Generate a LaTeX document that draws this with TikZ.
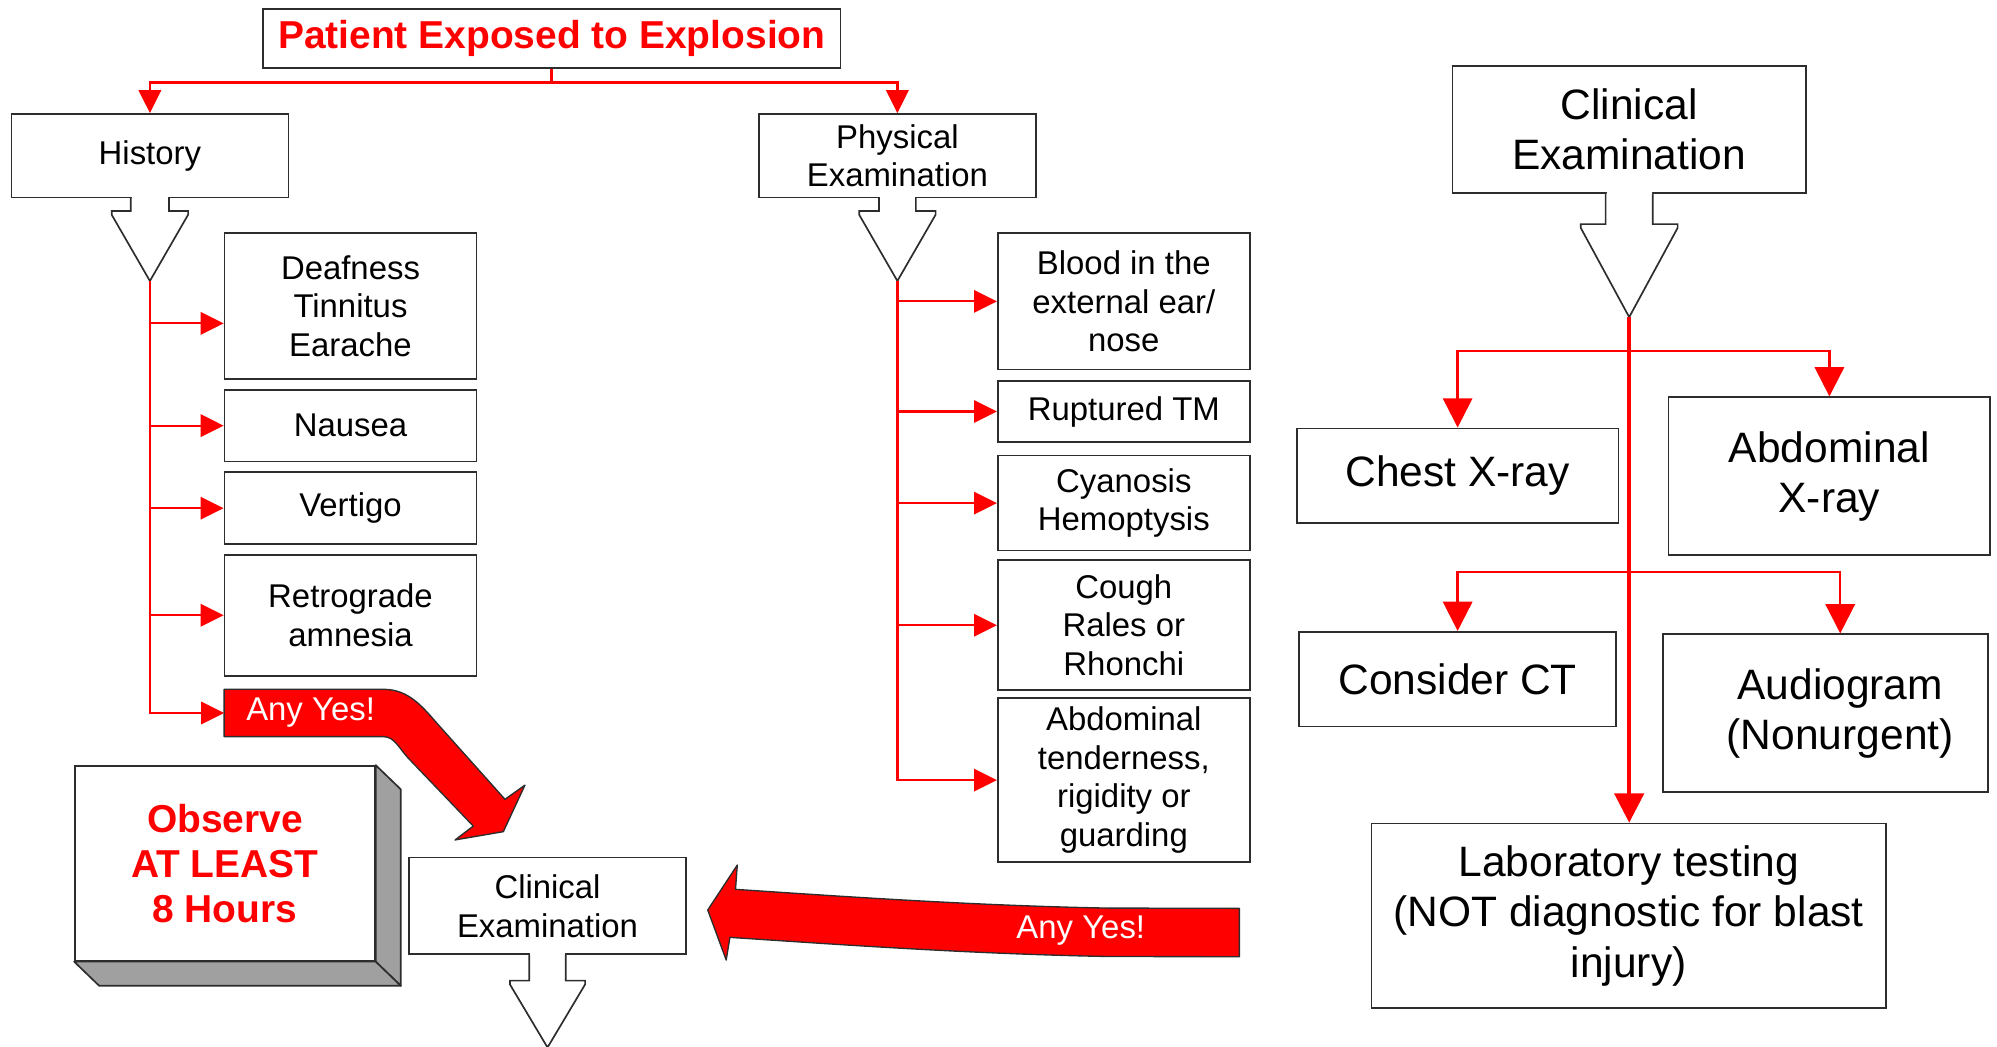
\documentclass[tikz,border=0pt]{standalone}
\usepackage{fontspec}
\setmainfont{Liberation Sans}
\usetikzlibrary{arrows.meta, positioning, calc}
\definecolor{edge}{RGB}{45,45,45}
\definecolor{sidegray}{RGB}{160,160,160}

\begin{document}
\begin{tikzpicture}[x=0.02cm, y=-0.02cm,
    item/.style={draw=edge, line width=0.75pt, fill=white, minimum width=3.96cm, align=center, inner sep=1pt, font=\fontsize{14.7}{17.3}\selectfont},
    hbox/.style={item, minimum width=4.35cm},
    bigbox/.style={draw=edge, line width=0.75pt, fill=white, align=center, inner sep=1pt, font=\fontsize{19}{22.5}\selectfont},
    warn/.style={font=\bfseries\fontsize{17.4}{20.2}\selectfont, text=red, align=center},
    arr/.style={red, line width=1pt, -{Triangle[length=0.36cm, width=0.35cm]}},
    bigarr/.style={red, line width=1.1pt, -{Triangle[length=0.46cm, width=0.46cm]}},
    yesarrow/.style={fill=red, draw=edge, line width=0.6pt, line join=round},
    yestxt/.style={text=white, font=\fontsize{14.7}{17.3}\selectfont},
    pics/tail/.style args={#1/#2/#3/#4}{code={
        \fill[white] (-#1+0.7,-1.5) rectangle (#1-0.7,1.5);
        \filldraw[fill=white, draw=edge, line width=0.75pt] (-#1,0) -- (-#1,#3) -- (-#2,#3) -- (-#2,#3+3) -- (0,#4) -- (#2,#3+3) -- (#2,#3) -- (#1,#3) -- (#1,0);
        \coordinate (-tip) at (0,#4);
    }},
]
\useasboundingbox (0,0) rectangle (1568,822);

% Patient, history and physical examination
\node[hbox, warn, minimum width=9.07cm, minimum height=0.93cm] (title) at (433.2,30.4) {Patient Exposed to Explosion};
\node[hbox, minimum height=1.31cm] (hist) at (117.7,122.2) {History};
\node[hbox, minimum height=1.31cm] (phys) at (704.6,122.2) {Physical\\Examination};

\draw[arr, line width=1.1pt] (title.south) -- ++(0,10.5) -| (hist.north);
\draw[arr, line width=1.1pt] (title.south) -- ++(0,10.5) -| (phys.north);

\pic (h) at (hist.south) {tail=15/30/10/65};
\pic (p) at (phys.south) {tail=14.5/30/10/65};

% History items
\node[item, minimum height=2.29cm] (dtt) at (275.2,240.4) {Deafness\\Tinnitus\\Earache};
\node[item, minimum height=1.13cm, below=0.14cm of dtt] (nau) {Nausea};
\node[item, minimum height=1.13cm, below=0.14cm of nau] (ver) {Vertigo};
\node[item, minimum height=1.9cm, below=0.14cm of ver] (retro) {Retrograde\\amnesia};

\path[yesarrow] (176,541.2) -- (301,541.2) .. controls (322,541.2) and (333,556.6) .. (345.5,570.6) -- (396.5,627.6) -- (412.2,616.4) -- (395.2,653) -- (357.3,659.5) -- (371.6,648.6) -- (321.9,596.7) .. controls (313,587.5) and (310,578.4) .. (301,578.4) -- (176,578.4) -- cycle;
\node[yestxt, anchor=west, inner xsep=0.34cm, minimum height=0.744cm] (anyl) at (176,559.8) {Any Yes!};

\coordinate (dttin) at ([yshift=-0.27cm]dtt.west);
\draw[arr] (h-tip |- dttin) -- (dttin);
\foreach \n in {nau, ver, retro}
  \draw[arr] (h-tip |- \n.west) -- (\n.west);
\draw[arr] (h-tip) |- (anyl.west);

% Physical examination items
\node[item, minimum height=2.14cm] (blood) at (882.4,236.6) {Blood in the\\external ear/\\nose};
\node[item, minimum height=0.96cm] (rupt) at (882.4,323.1) {Ruptured TM};
\node[item, minimum height=1.49cm] (cyan) at (882.4,395) {Cyanosis\\Hemoptysis};
\node[item, minimum height=2.04cm] (cough) at (882.4,490.9) {Cough\\Rales or\\Rhonchi};
\node[item, minimum height=2.57cm] (abdt) at (882.4,612.5) {Abdominal\\tenderness,\\rigidity or\\guarding};

\foreach \n in {blood, rupt, cyan, cough}
  \draw[arr] (p-tip |- \n.west) -- (\n.west);
\draw[arr] (p-tip) |- (abdt.west);

% Observe and clinical examination
\node[draw=edge, line width=0.75pt, fill=white, warn, minimum width=4.71cm, minimum height=3.06cm] (obs) at (176.6,677.9) {Observe\\AT LEAST\\8 Hours};
\filldraw[fill=sidegray, draw=edge, line width=0.75pt, line join=round] (obs.north east) -- ++(19.7,19) -- ([shift={(19.7,19)}]obs.south east) -- (obs.south east) -- cycle;
\filldraw[fill=sidegray, draw=edge, line width=0.75pt, line join=round] (obs.south west) -- ++(19.7,19) -- ([shift={(19.7,19)}]obs.south east) -- (obs.south east) -- cycle;

\node[hbox, minimum height=1.52cm] (clin) at (429.9,711.3) {Clinical\\Examination};
\pic (c) at (clin.south) {tail=14.3/29.5/20/72.5};

\path[yesarrow] (973.1,713.2) -- (870,713) .. controls (760,711) and (650,703) .. (577.5,698.3) -- (578.9,679.2) -- (555.7,714.5) -- (570.2,753.8) -- (573.1,736) .. controls (650,741) and (760,749) .. (870,751) -- (973.1,751.2) -- cycle;
\node[yestxt] (anyr) at (848.6,730.5) {Any Yes!};

% Right: clinical examination
\node[bigbox, minimum width=5.55cm, minimum height=1.99cm] (cr) at (1279.2,101.6) {Clinical\\Examination};
\pic (r) at (cr.south) {tail=18.5/38/24/97};
\node[bigbox, minimum width=5.05cm, minimum height=1.49cm] (chest) at (1144.5,373.6) {Chest X-ray};
\node[bigbox, minimum width=5.05cm, minimum height=2.48cm] (abdx) at (1436.4,373.9) {Abdominal\\X-ray};
\node[bigbox, minimum width=4.98cm, minimum height=1.49cm] (ct) at (1144.5,533.3) {Consider CT};
\node[bigbox, minimum width=5.1cm, minimum height=2.48cm] (audio) at (1433.4,560) {\hspace*{0.46cm}Audiogram\\\hspace*{0.46cm}(Nonurgent)};
\node[bigbox, minimum width=8.08cm, minimum height=2.9cm] (lab) at (1278.8,719.1) {Laboratory testing\\(NOT diagnostic for blast\\injury)};

\coordinate (fork1) at ([yshift=-0.53cm]r-tip);
\coordinate (fork2) at ([yshift=-4cm]r-tip);
\coordinate (audin) at ([xshift=0.23cm]audio.north);

\draw[bigarr, line width=1.7pt] (r-tip) -- (r-tip |- lab.north);
\draw[bigarr] (fork1) -| (chest.north);
\draw[bigarr] (fork1) -| (abdx.north);
\draw[bigarr] (fork2) -| (ct.north);
\draw[bigarr] (fork2) -| (audin);

\end{tikzpicture}
\end{document}
